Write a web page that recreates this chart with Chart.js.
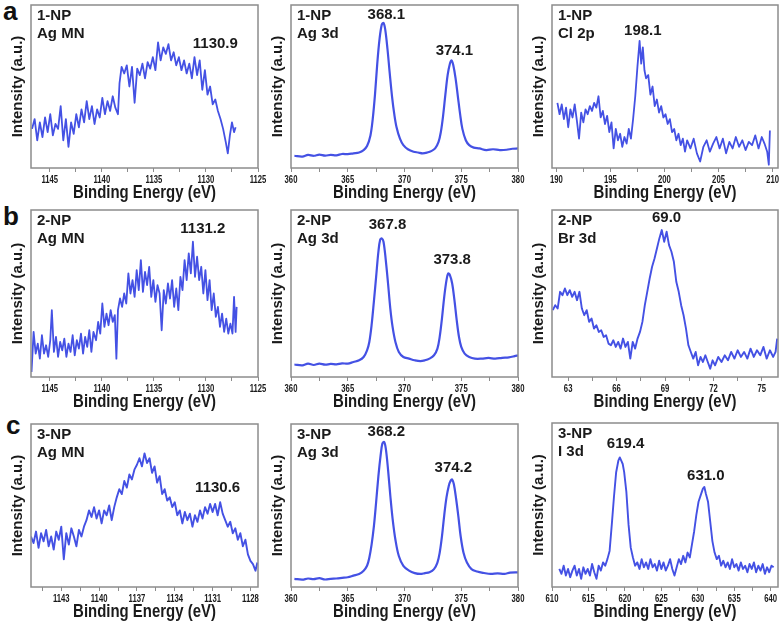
<!DOCTYPE html>
<html>
<head>
<meta charset="utf-8">
<script src="https://cdn.jsdelivr.net/npm/chart.js"></script>
<style>
  html, body { margin: 0; padding: 0; background: #fff; }
  #stage { position: relative; width: 784px; height: 622px; overflow: hidden; }
  .tag { position: absolute; font: bold 26px 'Liberation Sans', Arial, sans-serif; line-height: 26px; color: #111; }
</style>
</head>
<body>
<div id="stage">
  <div class="tag" style="left:3px;top:-2px">a</div>
  <div class="tag" style="left:3px;top:203px">b</div>
  <div class="tag" style="left:6px;top:412px">c</div>
</div>
<script>
// ---------------------------------------------------------------------
// XPS spectra, 3 samples (rows) x 3 regions (columns).
// Intensity is in arbitrary units: 0 = bottom of the frame, 100 = top.
// ---------------------------------------------------------------------

// tick values (binding energy, eV)
const agMnMajor = [1145, 1140, 1135, 1130, 1125];
const agMnMinor = [1142.5, 1137.5, 1132.5, 1127.5];
const agMn3Major = [1143, 1140, 1137, 1134, 1131, 1128];
const agMn3Minor = [1144.5, 1141.5, 1138.5, 1135.5, 1132.5, 1129.5];
const ag3dMajor = [360, 365, 370, 375, 380];
const ag3dMinor = [362.5, 367.5, 372.5, 377.5];
const cl2pMajor = [190, 195, 200, 205, 210];
const cl2pMinor = [192.5, 197.5, 202.5, 207.5];
const br3dMajor = [63, 66, 69, 72, 75];
const br3dMinor = [64.5, 67.5, 70.5, 73.5];
const i3dMajor = [610, 615, 620, 625, 630, 635, 640];
const i3dMinor = [612.5, 617.5, 622.5, 627.5, 632.5, 637.5];

// (a) 1-NP, Ag MN
const a1Energy = [1146.70,1146.45,1146.20,1145.95,1145.70,1145.45,1145.20,1144.95,1144.70,1144.45,
  1144.20,1143.95,1143.70,1143.45,1143.20,1142.95,1142.70,1142.45,1142.20,1141.95,
  1141.70,1141.45,1141.20,1140.95,1140.70,1140.45,1140.20,1139.95,1139.70,1139.45,
  1139.20,1138.95,1138.70,1138.45,1138.30,1138.10,1137.85,1137.60,1137.35,1137.10,
  1136.85,1136.60,1136.35,1136.10,1135.85,1135.60,1135.35,1135.10,1134.85,1134.60,
  1134.35,1134.10,1133.85,1133.60,1133.35,1133.10,1132.85,1132.60,1132.35,1132.10,
  1131.85,1131.60,1131.35,1131.10,1130.85,1130.60,1130.35,1130.10,1129.85,1129.60,
  1129.35,1129.10,1128.85,1128.60,1128.35,1128.10,1127.90,1127.70,1127.50,1127.30,1127.15];
const a1Intensity = [24,30,17,28,19,31,22,33,20,27,
  24,38,17,30,13,28,21,33,25,36,
  28,41,30,38,27,36,31,43,33,41,
  35,44,37,33,52,62,58,63,50,62,
  40,61,57,64,55,65,61,68,60,77,
  66,74,70,76,66,71,63,68,60,66,
  58,64,55,68,57,66,48,60,45,50,
  39,42,35,30,24,16,9,20,28,22,25];

// (a) 1-NP, Ag 3d
const a2Energy = [360.3,361,361.5,362,362.5,363,363.5,364,364.5,365,365.5,366,366.4,366.7,367.0,367.2,367.4,367.6,367.8,368.0,
  368.15,368.3,368.5,368.7,368.9,369.1,369.3,369.6,369.9,370.3,370.8,371.2,371.6,372,372.4,372.7,373.0,373.2,373.4,373.6,
  373.8,374.0,374.15,374.3,374.5,374.7,374.9,375.1,375.4,375.7,376.1,376.6,377.2,377.8,378.4,379,379.5,380];
const a2Intensity = [7.5,7,8,7.5,8.2,7.6,8,7.8,8.6,8.5,9,9.5,11,13.5,20,30,45,64,79,88,
  89,85,73,58,44,33,25,18,14,11.5,10,9.5,9,9.5,10.5,12,16,22,32,45,
  57,64,66,63,55,44,33,24,17,14,12.5,12,11,11.5,11,11.2,11.8,12];

// (a) 1-NP, Cl 2p
const a3Energy = [190.1,190.3,190.5,190.7,190.9,191.1,191.3,191.5,191.7,191.9,
  192.1,192.3,192.5,192.7,192.9,193.1,193.3,193.5,193.7,193.9,
  194.1,194.3,194.5,194.7,194.9,195.1,195.3,195.5,195.7,195.9,
  196.1,196.3,196.5,196.7,196.9,197.1,197.3,197.5,197.7,197.85,
  198.0,198.15,198.3,198.5,198.7,198.9,199.1,199.3,199.5,199.7,
  199.9,200.1,200.3,200.5,200.7,200.9,201.1,201.3,201.5,201.7,
  201.9,202.1,202.4,202.7,203.0,203.3,203.6,203.9,204.2,204.5,
  204.8,205.1,205.4,205.7,206.0,206.3,206.6,206.9,207.2,207.5,
  207.8,208.1,208.4,208.7,209.0,209.25,209.5,209.65,209.75];
const a3Intensity = [40,33,39,30,37,25,36,31,39,29,
  18,34,28,36,33,38,35,40,37,44,
  31,35,27,32,22,28,12,24,17,21,
  13,19,15,24,18,30,44,62,78,64,
  74,60,55,57,45,50,38,42,34,38,
  31,33,27,30,22,24,17,21,14,18,
  10,17,12,18,9,4,13,17,10,15,
  19,12,18,9,16,12,19,13,17,11,
  16,14,20,12,19,15,10,2,23];

// (b) 2-NP, Ag MN
const b1Energy = [1146.75,1146.55,1146.35,1146.15,1145.95,1145.75,1145.55,1145.35,1145.15,1144.95,
  1144.80,1144.60,1144.40,1144.20,1144.00,1143.80,1143.60,1143.40,1143.20,1143.00,
  1142.80,1142.60,1142.40,1142.20,1142.00,1141.80,1141.60,1141.40,1141.20,1141.00,
  1140.80,1140.55,1140.35,1140.15,1139.95,1139.75,1139.55,1139.35,1139.15,1138.95,
  1138.75,1138.60,1138.45,1138.25,1138.05,1137.85,1137.65,1137.45,1137.25,1137.05,
  1136.85,1136.65,1136.45,1136.25,1136.05,1135.85,1135.65,1135.45,1135.25,1135.05,
  1134.85,1134.65,1134.45,1134.25,1134.05,1133.85,1133.65,1133.45,1133.25,1133.05,
  1132.85,1132.65,1132.45,1132.25,1132.05,1131.85,1131.65,1131.45,1131.25,1131.05,
  1130.85,1130.65,1130.45,1130.25,1130.05,1129.85,1129.65,1129.45,1129.25,1129.05,
  1128.85,1128.65,1128.45,1128.25,1128.05,1127.85,1127.65,1127.45,1127.30,1127.15,1127.05];
const b1Intensity = [3,27,14,20,11,25,14,19,12,22,
  40,15,24,12,21,16,23,12,20,15,
  25,13,22,17,26,14,24,18,28,15,
  27,22,33,26,44,30,38,31,40,33,
  37,11,40,47,42,50,44,62,50,58,
  48,64,52,70,51,63,55,66,48,58,
  45,55,50,28,52,44,56,47,58,42,
  53,40,60,52,70,58,74,62,81,60,
  72,58,66,50,64,46,58,40,50,36,
  42,30,38,27,35,26,32,26,48,27,42];

// (b) 2-NP, Ag 3d
const b2Energy = [360.3,361,361.5,362,362.5,363,363.5,364,364.5,365,365.5,366,366.4,366.7,366.9,367.1,367.3,367.5,367.7,367.85,
  368.0,368.15,368.35,368.55,368.75,368.95,369.2,369.5,369.9,370.4,370.9,371.4,371.8,372.2,372.6,372.9,373.1,373.3,373.5,373.7,
  373.85,374.0,374.2,374.4,374.6,374.8,375.0,375.3,375.7,376.2,376.8,377.4,378,378.6,379.2,379.7,380];
const b2Intensity = [7.5,7,8,7.2,8,7.4,7.8,7.6,8.2,8,9,10,12,16,21,31,45,60,75,82,
  83,81,70,56,41,30,21,15,12,11,10,9.5,10,11,13,17,24,35,48,58,
  62,61,56,46,34,24,18,14,12,11,11,11.4,11,11.5,11.8,12.5,13];

// (b) 2-NP, Br 3d
const b3Energy = [62.05,62.2,62.35,62.5,62.65,62.8,62.95,63.1,63.25,63.4,
  63.55,63.7,63.85,64.0,64.15,64.3,64.45,64.6,64.75,64.9,
  65.05,65.2,65.35,65.5,65.65,65.8,65.95,66.1,66.25,66.4,
  66.55,66.7,66.85,67.0,67.15,67.3,67.45,67.6,67.75,67.9,
  68.05,68.2,68.35,68.5,68.65,68.8,68.95,69.1,69.25,69.4,
  69.55,69.7,69.85,70.0,70.15,70.3,70.45,70.6,70.75,70.9,
  71.05,71.2,71.35,71.5,71.65,71.8,71.95,72.1,72.3,72.5,
  72.7,72.9,73.1,73.3,73.5,73.7,73.9,74.1,74.3,74.5,
  74.7,74.9,75.1,75.3,75.5,75.7,75.85,75.95];
const b3Intensity = [40,43,41,51,49,53,49,52,48,51,
  46,51,41,37,40,33,35,29,31,27,
  28,24,25,20,19,22,18,21,17,23,
  18,21,11,21,17,23,27,33,43,51,
  59,66,71,77,83,88,81,87,79,75,
  69,57,51,43,37,29,19,15,11,15,
  7,12,9,13,9,5,10,7,12,9,
  13,10,15,11,16,12,15,11,17,12,
  16,13,18,11,16,12,15,23];

// (c) 3-NP, Ag MN
const c1Energy = [1145.4,1145.2,1145.0,1144.8,1144.6,1144.4,1144.2,1144.0,1143.8,1143.6,
  1143.4,1143.2,1143.0,1142.8,1142.6,1142.4,1142.2,1142.0,1141.8,1141.6,
  1141.4,1141.2,1141.0,1140.8,1140.6,1140.4,1140.2,1140.0,1139.8,1139.6,
  1139.4,1139.2,1139.0,1138.8,1138.6,1138.4,1138.2,1138.0,1137.8,1137.6,
  1137.4,1137.2,1137.0,1136.8,1136.6,1136.4,1136.2,1136.0,1135.8,1135.6,
  1135.4,1135.2,1135.0,1134.8,1134.6,1134.4,1134.2,1134.0,1133.8,1133.6,
  1133.4,1133.2,1133.0,1132.8,1132.6,1132.4,1132.2,1132.0,1131.8,1131.6,
  1131.4,1131.2,1131.0,1130.8,1130.6,1130.4,1130.2,1130.0,1129.8,1129.6,
  1129.4,1129.2,1129.0,1128.8,1128.6,1128.4,1128.2,1128.0,1127.8,1127.6,1127.45];
const c1Intensity = [31,27,34,24,33,28,35,25,31,23,
  34,29,37,17,33,26,36,31,25,35,
  31,37,41,47,43,49,42,47,39,47,
  44,50,41,49,55,60,57,65,61,69,
  66,72,75,79,74,82,76,79,70,74,
  64,68,57,60,53,55,49,52,44,47,
  39,46,41,45,37,44,40,47,42,49,
  45,51,46,51,44,52,45,41,37,40,
  33,36,29,33,25,29,20,16,14,10,15];

// (c) 3-NP, Ag 3d
const c2Energy = [360.3,361,361.5,362,362.5,363,363.5,364,364.5,365,365.5,366,366.4,366.7,366.9,367.1,367.3,367.5,367.7,367.9,
  368.05,368.2,368.35,368.55,368.75,368.95,369.2,369.5,369.9,370.4,370.9,371.4,371.8,372.2,372.6,372.9,373.1,373.3,373.5,373.7,
  373.9,374.05,374.2,374.35,374.55,374.75,374.95,375.2,375.5,375.9,376.4,377,377.6,378.2,378.8,379.3,380];
const c2Intensity = [5,4.5,5.2,4.8,5.4,4.6,5,5.2,5.6,6,7,8,10,13,18,26,37,52,68,81,
  88,89,85,72,56,42,29,19,13,10,8.5,8,8.5,9,11,15,21,31,44,55,
  62,65,66,63,54,43,31,21,15,11,9.5,8.6,8,8.4,8,8.8,9];

// (c) 3-NP, I 3d
const c3Energy = [611.0,611.3,611.6,611.9,612.2,612.5,612.8,613.1,613.4,613.7,
  614.0,614.3,614.6,614.9,615.2,615.5,615.8,616.1,616.4,616.7,
  617.0,617.3,617.6,617.9,618.2,618.5,618.8,619.1,619.3,619.5,
  619.7,619.9,620.2,620.5,620.8,621.1,621.4,621.7,622.0,622.3,
  622.6,622.9,623.2,623.5,623.8,624.1,624.4,624.7,625.0,625.3,
  625.6,625.9,626.2,626.5,626.8,627.1,627.4,627.7,628.0,628.3,
  628.6,628.9,629.2,629.5,629.8,630.1,630.4,630.7,630.9,631.1,
  631.4,631.7,632.0,632.3,632.6,632.9,633.2,633.5,633.8,634.1,
  634.4,634.7,635.0,635.3,635.6,635.9,636.2,636.5,636.8,637.1,
  637.4,637.7,638.0,638.3,638.6,638.9,639.2,639.5,639.8,640.1,640.4];
const c3Intensity = [11,8,13,7,11,6,10,13,7,11,
  5,12,8,11,7,14,9,5,13,10,
  15,13,17,22,38,55,70,77,79,77,
  75,70,58,38,24,18,13,15,11,17,
  12,15,11,17,12,14,10,16,11,15,
  10,13,17,11,7,12,17,14,19,15,
  21,18,26,34,44,52,56,60,61,57,
  52,40,28,21,17,19,13,16,12,15,
  11,17,12,14,10,15,11,13,9,14,
  11,15,9,13,10,14,8,12,9,13,12];

// ---------------------------------------------------------------------
// panel layout: frame box in page pixels [left, top, right, bottom]
// ---------------------------------------------------------------------
const panels = [
  { box: [31, 5, 258, 168], xMin: 1125, xMax: 1146.8, reverse: true, major: agMnMajor, minor: agMnMinor,
    energy: a1Energy, intensity: a1Intensity, name: ['1-NP', 'Ag MN'], lw: 1.8,
    peaks: [{ text: '1130.9', x: 1129.1, y: 76 }] },
  { box: [291, 5, 518, 168], xMin: 360, xMax: 380, reverse: false, major: ag3dMajor, minor: ag3dMinor,
    energy: a2Energy, intensity: a2Intensity, name: ['1-NP', 'Ag 3d'], lw: 2.2, smooth: true,
    peaks: [{ text: '368.1', x: 368.4, y: 94 }, { text: '374.1', x: 374.4, y: 72 }] },
  { box: [552, 5, 778, 168], xMin: 189.6, xMax: 210.5, reverse: false, major: cl2pMajor, minor: cl2pMinor,
    energy: a3Energy, intensity: a3Intensity, name: ['1-NP', 'Cl 2p'], lw: 1.8,
    peaks: [{ text: '198.1', x: 198.0, y: 84 }] },

  { box: [31, 210, 258, 377], xMin: 1125, xMax: 1146.8, reverse: true, major: agMnMajor, minor: agMnMinor,
    energy: b1Energy, intensity: b1Intensity, name: ['2-NP', 'Ag MN'], lw: 1.8,
    peaks: [{ text: '1131.2', x: 1130.3, y: 89 }] },
  { box: [291, 210, 518, 377], xMin: 360, xMax: 380, reverse: false, major: ag3dMajor, minor: ag3dMinor,
    energy: b2Energy, intensity: b2Intensity, name: ['2-NP', 'Ag 3d'], lw: 2.2, smooth: true,
    peaks: [{ text: '367.8', x: 368.5, y: 91 }, { text: '373.8', x: 374.2, y: 70 }] },
  { box: [552, 210, 778, 377], xMin: 62, xMax: 76, reverse: false, major: br3dMajor, minor: br3dMinor,
    energy: b3Energy, intensity: b3Intensity, name: ['2-NP', 'Br 3d'], lw: 1.9,
    peaks: [{ text: '69.0', x: 69.1, y: 95 }] },

  { box: [31, 424, 258, 587], xMin: 1127.4, xMax: 1145.4, reverse: true, major: agMn3Major, minor: agMn3Minor,
    energy: c1Energy, intensity: c1Intensity, name: ['3-NP', 'Ag MN'], lw: 1.9,
    peaks: [{ text: '1130.6', x: 1130.6, y: 61 }] },
  { box: [291, 424, 518, 587], xMin: 360, xMax: 380, reverse: false, major: ag3dMajor, minor: ag3dMinor,
    energy: c2Energy, intensity: c2Intensity, name: ['3-NP', 'Ag 3d'], lw: 2.2, smooth: true,
    peaks: [{ text: '368.2', x: 368.4, y: 95 }, { text: '374.2', x: 374.3, y: 73 }] },
  { box: [552, 423, 778, 587], xMin: 610, xMax: 641, reverse: false, major: i3dMajor, minor: i3dMinor,
    energy: c3Energy, intensity: c3Intensity, name: ['3-NP', 'I 3d'], lw: 1.9,
    peaks: [{ text: '619.4', x: 620.1, y: 87 }, { text: '631.0', x: 631.1, y: 68 }] }
];

const FONT = "'Liberation Sans', Arial, sans-serif";
const BLUE = '#4451e4';
const FRAME = '#8c8c8c';
const Y_W = 31, X_H = 36, PAD_T = 5, PAD_R = 12;

// the source figure's axis text is horizontally squeezed; draw it with a scale
function squeezed(ctx, text, x, y, sx) {
  ctx.save();
  ctx.translate(x, y);
  ctx.scale(sx, 1);
  ctx.fillText(text, 0, 0);
  ctx.restore();
}

// frame, tick labels, axis title and in-plot labels
function overlay(p) {
  return {
    id: 'overlay',
    afterDraw(chart) {
      const ctx = chart.ctx, a = chart.chartArea;
      const xs = chart.scales.x, ys = chart.scales.y;
      ctx.save();
      ctx.strokeStyle = FRAME;
      ctx.lineWidth = 1.5;
      ctx.strokeRect(a.left, a.top, a.right - a.left, a.bottom - a.top);

      ctx.fillStyle = '#1a1a1a';
      ctx.textBaseline = 'middle';
      ctx.textAlign = 'center';
      ctx.font = 'bold 11px ' + FONT;
      p.major.forEach(v => squeezed(ctx, String(v), xs.getPixelForValue(v), a.bottom + 12, 0.7));
      ctx.font = 'bold 18px ' + FONT;
      squeezed(ctx, 'Binding Energy (eV)', (a.left + a.right) / 2, a.bottom + 25.5, 0.83);

      ctx.font = 'bold 15px ' + FONT;
      ctx.textAlign = 'left';
      ctx.fillText(p.name[0], a.left + 6, a.top + 11);
      ctx.fillText(p.name[1], a.left + 6, a.top + 29);
      ctx.textAlign = 'center';
      p.peaks.forEach(k => ctx.fillText(k.text, xs.getPixelForValue(k.x), ys.getPixelForValue(k.y)));
      ctx.restore();
    }
  };
}

const stage = document.getElementById('stage');
panels.forEach(p => {
  const [l, t, r, b] = p.box;
  const cv = document.createElement('canvas');
  cv.width = r - l + Y_W + PAD_R;
  cv.height = b - t + PAD_T + X_H;
  cv.style.cssText = `position:absolute;left:${l - Y_W}px;top:${t - PAD_T}px;`;
  stage.appendChild(cv);

  const n = Math.min(p.energy.length, p.intensity.length);
  const pts = [];
  for (let i = 0; i < n; i++) pts.push({ x: p.energy[i], y: p.intensity[i] });

  new Chart(cv, {
    type: 'line',
    data: { datasets: [{ data: pts, borderColor: BLUE, borderWidth: p.lw, pointRadius: 0,
      tension: p.smooth ? 0.35 : 0, borderJoinStyle: 'round', fill: false }] },
    options: {
      responsive: false, animation: false, events: [],
      layout: { padding: { left: 0, top: PAD_T, right: PAD_R, bottom: 0 } },
      plugins: { legend: { display: false }, tooltip: { enabled: false } },
      scales: {
        x: {
          type: 'linear', min: p.xMin, max: p.xMax, reverse: p.reverse,
          afterBuildTicks: ax => { ax.ticks = p.major.concat(p.minor).sort((u, v) => u - v).map(v => ({ value: v })); },
          afterFit: ax => { ax.height = X_H; },
          ticks: { autoSkip: false, maxRotation: 0, padding: 0, callback: () => '' },
          grid: { display: true, drawOnChartArea: false, drawTicks: true, tickLength: 4, color: FRAME, lineWidth: 1 },
          border: { display: false },
          title: { display: false }
        },
        y: {
          min: 0, max: 100,
          afterFit: ax => { ax.width = Y_W; },
          ticks: { display: false },
          grid: { display: false },
          border: { display: false },
          title: { display: true, text: 'Intensity (a.u.)', color: '#1a1a1a',
            font: { family: FONT, size: 15, weight: 'bold', lineHeight: 1 }, padding: { top: 10, bottom: 0 } }
        }
      }
    },
    plugins: [overlay(p)]
  });
});
</script>
</body>
</html>
